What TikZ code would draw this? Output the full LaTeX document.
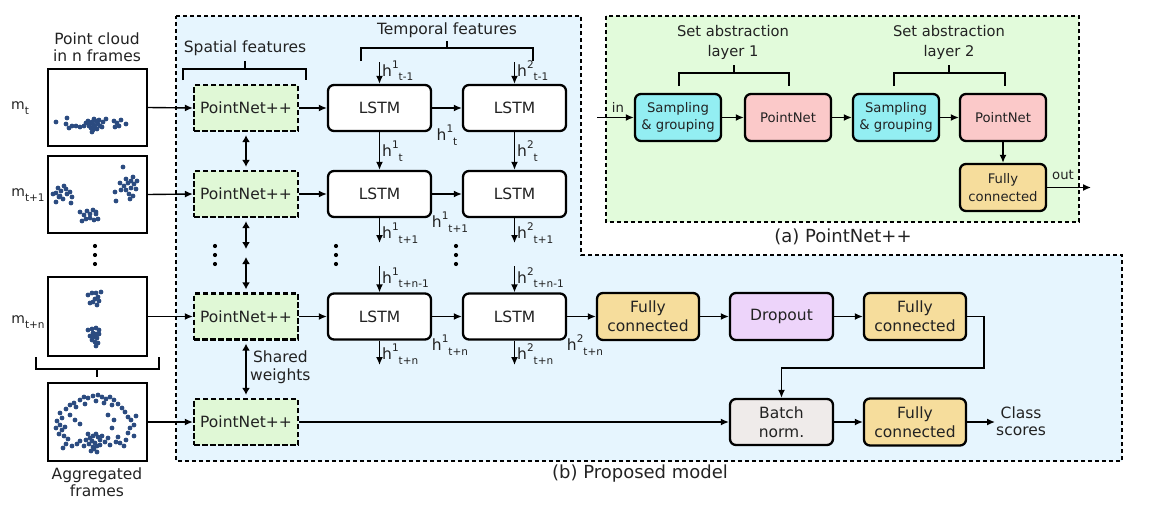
\documentclass[tikz,border=0pt]{standalone}
\usepackage{fontspec}
\setmainfont{DejaVu Sans}
\usetikzlibrary{arrows.meta,calc}
\definecolor{bluebg}{HTML}{E6F5FE}
\definecolor{greenbg}{HTML}{E2FBDB}
\definecolor{pngreen}{HTML}{E0F8D6}
\definecolor{fccol}{HTML}{F6DD9C}
\definecolor{cyancol}{HTML}{93EEF2}
\definecolor{pinkcol}{HTML}{FBC9C9}
\definecolor{purpcol}{HTML}{EDD4FA}
\definecolor{bncol}{HTML}{EFEBEA}
\definecolor{txt}{HTML}{222222}
\definecolor{ptc}{HTML}{2B4B80}
\newcommand\fsb{\fontsize{15.5}{19}\selectfont}
\newcommand\fsa{\fontsize{13.2}{17.5}\selectfont}
\newcommand\fsc{\fontsize{18}{22}\selectfont}
\newcommand\fst{\fontsize{14.7}{20}\selectfont}
\newcommand\fss{\fontsize{10.5}{10.5}\selectfont}
\newcommand\hlb[2]{\fontsize{15.5}{18}\selectfont h\raisebox{0.5em}{\fss #1}\raisebox{-0.3em}{\fss #2}}
\newcommand\mlb[1]{\fontsize{14}{16}\selectfont m\raisebox{-0.3em}{\fss #1}}
\begin{document}
\begin{tikzpicture}[x=1pt,y=-1pt,
  blk/.style={draw=black, line width=2.3pt, rounded corners=6pt, align=center, inner sep=1pt, text=txt},
  lstm/.style={blk, fill=white, font=\fsb, minimum width=103pt, minimum height=46pt},
  fcb/.style={blk, fill=fccol, font=\fsb, minimum width=102pt, minimum height=47pt},
  dob/.style={blk, fill=purpcol, font=\fsb, minimum width=103pt, minimum height=47pt},
  bnb/.style={blk, fill=bncol, font=\fsb, minimum width=103pt, minimum height=46pt},
  abox/.style={blk, font=\fsa, minimum width=86pt, minimum height=47pt},
  pnpp/.style={draw=black, dash pattern=on 5.5pt off 2.5pt, line width=2.3pt, fill=pngreen, font=\fsb, text=txt, minimum width=104pt, minimum height=46pt, inner sep=1pt},
  frame/.style={draw=black, line width=2.3pt, fill=white, minimum width=99pt, minimum height=77pt},
  regionbox/.style={draw=black, dash pattern=on 4pt off 3pt, line width=2.1pt},
  arr/.style={-{Latex[length=8pt,width=7pt]}, line width=1.4pt},
  dbl/.style={{Latex[length=7pt,width=8pt]}-{Latex[length=7pt,width=8pt]}, line width=2.6pt},
  brk/.style={line width=1.8pt},
  lab/.style={text=txt, inner sep=0pt, align=center}
]
\useasboundingbox (0,0) rectangle (1157,522);
% regions
\draw[regionbox, fill=bluebg] (176,16) -- (581,16) -- (581,255) -- (1122,255) -- (1122,461) -- (176,461) -- cycle;
\draw[regionbox, fill=greenbg] (606,16) rectangle (1079,222);

% frames
\node[frame] (pc1) at (97.5,107.5) {};
\node[frame] (pc2) at (97.5,194.5) {};
\node[frame, minimum height=79pt] (pc3) at (97.5,316.5) {};
\node[frame, minimum height=78pt] (pc4) at (97.5,422) {};
\foreach \x/\y in {56/122,67/118,66/124,69/128,72/126,76/126,80/127,84/126,88/121,90/124,92/122,94/125,96/121,91/128,93/130,95/127,98/124,89/126,92/132,97/129,100/126,103/122,106/119,102/127,114/121,117/123,121/120,119/126,126/124,115/127,86/123,99/120,94/119}
  \fill[ptc] (\x,\y) circle (2.4pt);
\foreach \x/\y in {56/193,58/188,61/191,64/186,66/189,60/196,63/199,67/194,70/192,72/197,56/202,59/197,71/203,53/194,
  80/212,84/215,87/211,90/214,93/210,96/212,86/219,90/218,94/220,98/219,82/221,96/214,
  123/167,126/179,120/183,124/186,128/183,131/181,134/184,136/189,126/190,129/194,133/196,121/190,115/192,116/201,130/199,133/177,137/181,131/188}
  \fill[ptc] (\x,\y) circle (2.4pt);
\foreach \x/\y in {88/295,92/293,96/293,101/292,98/297,95/299,93/302,97/305,90/303,99/301,
  88/330,92/329,96/328,99/330,93/333,96/334,90/336,94/337,97/338,92/340,95/342,98/343,96/346,93/336,99/334}
  \fill[ptc] (\x,\y) circle (2.4pt);
\foreach \x/\y in {80/400,84/397,88/398,93/396,98/395,102/397,106/399,110/397,114/400,118/404,74/403,70/405,66/409,76/407,85/404,96/401,104/403,112/405,122/408,
  60/413,62/418,57/421,60/425,56/428,62/430,65/427,59/434,64/436,68/439,66/444,63/448,72/446,
  125/412,128/417,131/420,134/425,130/428,128/433,134/436,126/440,120/443,124/446,116/442,118/437,136/416,
  88/434,90/438,93/436,96/434,98/437,100/440,92/441,95/443,89/444,93/447,97/446,100/445,86/440,84/446,80/441,77/444,102/436,105/442,108/438,110/445,94/449,97/452,91/451,
  70/415,75/420,80/424,108/415,114/420,112/428}
  \fill[ptc] (\x,\y) circle (2.4pt);

% frame labels
\node[lab] (m1) at (20,108) {\mlb{t}};
\node[lab] (m2) at (28,195) {\mlb{t+1}};
\node[lab] (m3) at (28,322) {\mlb{t+n}};
\node[lab, font=\fsb] (pctitle) at (97,47) {Point cloud\\[-2pt]in n frames};
\node[lab, font=\fsb] (aggt) at (97,482) {Aggregated\\[-2pt]frames};
\draw[brk] (36,357) -- (36,369) -- (159,369) -- (159,357);
\draw[brk] (97,369) -- (97,377);

% dots
\foreach \x in {95,215,336,456} {
  \fill[black] (\x,246) circle (2.1pt);
  \fill[black] (\x,255) circle (2.1pt);
  \fill[black] (\x,264) circle (2.1pt);
}

% PointNet++ nodes
\node[pnpp] (pn1) at (246,108) {PointNet++};
\node[pnpp] (pn2) at (246,194) {PointNet++};
\node[pnpp] (pn3) at (246,316.5) {PointNet++};
\node[pnpp] (pn4) at (246,422) {PointNet++};

% brackets in (b)
\node[lab, font=\fsb] (spt) at (245,48) {Spatial features};
\draw[brk] (183,80) -- (183,69) -- (306,69) -- (306,80);
\draw[brk] (245,69) -- (245,61);
\node[lab, font=\fsb] (tpt) at (447,30) {Temporal features};
\draw[brk] (361,61) -- (361,48) -- (533,48) -- (533,61);
\draw[brk] (447,48) -- (447,41);

% LSTM nodes
\node[lstm] (l11) at (379.5,108) {LSTM};
\node[lstm] (l12) at (514.5,108) {LSTM};
\node[lstm] (l21) at (379.5,194) {LSTM};
\node[lstm] (l22) at (514.5,194) {LSTM};
\node[lstm] (l31) at (379.5,316.5) {LSTM};
\node[lstm] (l32) at (514.5,316.5) {LSTM};

% head nodes
\node[fcb] (fc1) at (648,316.5) {Fully\\connected};
\node[dob] (do) at (781.5,316.5) {Dropout};
\node[fcb] (fc2) at (915,316.5) {Fully\\connected};
\node[bnb] (bn) at (781.5,422) {Batch\\norm.};
\node[fcb] (fc3) at (915,422) {Fully\\connected};
\node[lab, font=\fsb, anchor=west] (cls) at (996,421) {Class\\[-2pt]scores};

% arrows frame -> PointNet++
\draw[arr] (pc1.east) -- (pn1.west);
\draw[arr] (pc2.east) -- (pn2.west);
\draw[arr] (pc3.east) -- (pn3.west);
\draw[arr] (pc4.east) -- (pn4.west);
% PointNet++ -> LSTM
\draw[arr] (pn1.east) -- (l11.west);
\draw[arr] (pn2.east) -- (l21.west);
\draw[arr] (pn3.east) -- (l31.west);
\draw[arr] (l11.east) -- (l12.west);
\draw[arr] (l21.east) -- (l22.west);
\draw[arr] (l31.east) -- (l32.west);
\draw[arr] (l32.east) -- (fc1.west);
\draw[arr] (fc1.east) -- (do.west);
\draw[arr] (do.east) -- (fc2.west);
\coordinate (turn1) at (984,316.5);
\coordinate (turn2) at (781.5,368);
\draw[arr] (fc2.east) -- (turn1) |- (turn2) -- (bn.north);
\draw[arr] (pn4.east) -- (bn.west);
\draw[arr] (bn.east) -- (fc3.west);
\coordinate (clsin) at (995,422);
\draw[arr] (fc3.east) -- (clsin);

% double arrows
\coordinate (d1) at (246,249);
\coordinate (d2) at (246,257);
\draw[dbl] ([yshift=-3pt]pn1.south) -- ([yshift=3pt]pn2.north);
\draw[dbl] ([yshift=-3pt]pn2.south) -- (d1);
\draw[dbl] (d2) -- ([yshift=3pt]pn3.north);
\draw[dbl] ([yshift=-3pt]pn3.south) -- ([yshift=3pt]pn4.north);
\node[lab, font=\fsb, anchor=west] (shw) at (250,367) {Shared\\[-1pt]weights};

% hidden state arrows
\coordinate (h11) at (379.5,62);
\coordinate (h12) at (514.5,62);
\draw[arr] (h11) -- (l11.north) node[pos=0.4, right=2pt, lab] {\hlb{1}{t-1}};
\draw[arr] (h12) -- (l12.north) node[pos=0.4, right=2pt, lab] {\hlb{2}{t-1}};
\draw[arr] (l11.south) -- (l21.north) node[midway, right=2pt, lab] {\hlb{1}{t}};
\draw[arr] (l12.south) -- (l22.north) node[midway, right=2pt, lab] {\hlb{2}{t}};
\coordinate (o21) at (379.5,243);
\coordinate (o22) at (514.5,243);
\draw[arr] (l21.south) -- (o21) node[pos=0.6, right=2pt, lab] {\hlb{1}{t+1}};
\draw[arr] (l22.south) -- (o22) node[pos=0.6, right=2pt, lab] {\hlb{2}{t+1}};
\coordinate (i31) at (379.5,266);
\coordinate (i32) at (514.5,266);
\draw[arr] (i31) -- (l31.north) node[pos=0.45, right=2pt, lab] {\hlb{1}{t+n-1}};
\draw[arr] (i32) -- (l32.north) node[pos=0.45, right=2pt, lab] {\hlb{2}{t+n-1}};
\coordinate (o31) at (379.5,365);
\coordinate (o32) at (514.5,365);
\draw[arr] (l31.south) -- (o31) node[pos=0.55, right=2pt, lab] {\hlb{1}{t+n}};
\draw[arr] (l32.south) -- (o32) node[pos=0.55, right=2pt, lab] {\hlb{2}{t+n}};
% corner labels
\node[lab] (c1) at (447,135) {\hlb{1}{t}};
\node[lab] (c2) at (450,222) {\hlb{1}{t+1}};
\node[lab] (c3) at (450,345) {\hlb{1}{t+n}};
\node[lab] (c4) at (585,345) {\hlb{2}{t+n}};

% panel (a)
\node[abox, fill=cyancol] (sg1) at (678,117.5) {Sampling\\\& grouping};
\node[abox, fill=pinkcol] (pa1) at (788,117.5) {PointNet};
\node[abox, fill=cyancol] (sg2) at (896,117.5) {Sampling\\\& grouping};
\node[abox, fill=pinkcol] (pa2) at (1003,117.5) {PointNet};
\node[abox, fill=fccol] (fca) at (1003,187.5) {Fully\\connected};
\coordinate (ain) at (597,117.5);
\coordinate (aout) at (1091,187.5);
\draw[arr] (ain) -- (sg1.west);
\node[lab, font=\fsa] (inl) at (618,107) {in};
\draw[arr] (sg1.east) -- (pa1.west);
\draw[arr] (pa1.east) -- (sg2.west);
\draw[arr] (sg2.east) -- (pa2.west);
\draw[arr] (pa2.south) -- (fca.north);
\draw[arr] (fca.east) -- (aout);
\node[lab, font=\fsa] (outl) at (1063,175) {out};
\node[lab, font=\fst] (sa1) at (733,42) {Set abstraction\\layer 1};
\draw[brk] (679,86) -- (679,73) -- (789,73) -- (789,86);
\draw[brk] (734,73) -- (734,65);
\node[lab, font=\fst] (sa2) at (949,42) {Set abstraction\\layer 2};
\draw[brk] (894,86) -- (894,73) -- (1005,73) -- (1005,86);
\draw[brk] (949,73) -- (949,65);

% captions
\node[lab, font=\fsc] (capa) at (843,237) {(a) PointNet++};
\node[lab, font=\fsc] (capb) at (640,474) {(b) Proposed model};
\end{tikzpicture}
\end{document}
